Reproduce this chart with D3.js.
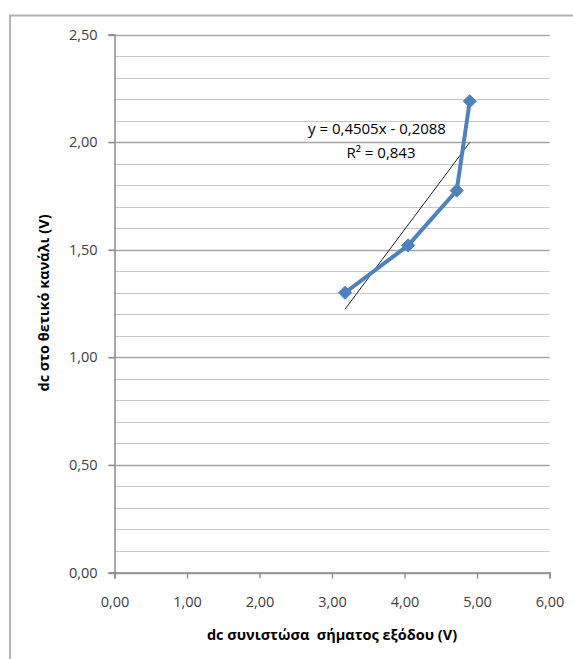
<!DOCTYPE html>
<html>
<head>
<meta charset="utf-8">
<script src="https://cdn.jsdelivr.net/npm/d3@7"></script>
<style>
  body { margin: 0; background: #fff; }
  svg { font-family: "Open Sans", "Liberation Sans", sans-serif; }
  .tick-label { font-size: 14.5px; fill: #404040; }
  .axis-title { font-size: 14.5px; font-weight: bold; fill: #000; white-space: pre; }
  .trend-label { font-size: 15px; fill: #000; }
</style>
</head>
<body>
<svg id="chart" width="573" height="659"></svg>
<script>
// measured points (x: dc output component, y: dc on positive channel)
const xValues = [3.18, 4.05, 4.72, 4.90];
const yValues = [1.30, 1.52, 1.775, 2.19];

const xTicks = [0, 1, 2, 3, 4, 5, 6];
const yMajorTicks = [0, 0.5, 1, 1.5, 2, 2.5];
const yMinorTicks = d3.range(0, 2.51, 0.1);

// linear trendline reported by the chart
const trendSlope = 0.4505;
const trendIntercept = -0.2088;
const trendText = ['y = 0,4505x - 0,2088', 'R² = 0,843'];

const xTitle = 'dc συνιστώσα  σήματος εξόδου (V)';
const yTitle = 'dc στο θετικό κανάλι (V)';

const fmt = v => d3.format('.2f')(v).replace('.', ',');

const svg = d3.select('#chart');

// outer chart border (only top and left visible in the crop)
svg.append('path')
  .attr('d', 'M10,659 V15.5 H573')
  .attr('fill', 'none')
  .attr('stroke', '#b3b3b3')
  .attr('stroke-width', 2);

const x = d3.scaleLinear().domain([0, 6]).range([114.5, 549.5]);
const y = d3.scaleLinear().domain([0, 2.5]).range([572.5, 34.5]);

// minor gridlines
svg.append('g')
  .selectAll('line')
  .data(yMinorTicks)
  .enter().append('line')
  .attr('x1', x(0))
  .attr('x2', x(6))
  .attr('y1', d => Math.round(y(d)) + 0.5)
  .attr('y2', d => Math.round(y(d)) + 0.5)
  .attr('stroke', '#c8c8c8')
  .attr('stroke-width', 1.2);

// major gridlines
svg.append('g')
  .selectAll('line')
  .data(yMajorTicks)
  .enter().append('line')
  .attr('x1', x(0) - 6)
  .attr('x2', x(6))
  .attr('y1', d => Math.round(y(d)) + 0.5)
  .attr('y2', d => Math.round(y(d)) + 0.5)
  .attr('stroke', '#a6a6a6')
  .attr('stroke-width', 1.3);

// y axis
const yAxis = svg.append('g')
  .attr('transform', 'translate(' + x(0) + ',0)')
  .call(d3.axisLeft(y).tickValues(yMajorTicks).tickFormat(fmt).tickSize(6).tickPadding(11));

// x axis
const xAxis = svg.append('g')
  .attr('transform', 'translate(0,' + y(0) + ')')
  .call(d3.axisBottom(x).tickValues(xTicks).tickFormat(fmt).tickSize(6).tickPadding(18));

[yAxis, xAxis].forEach(a => {
  a.select('.domain').attr('stroke', '#8c8c8c').attr('stroke-width', 1.5);
  a.selectAll('.tick line').attr('stroke', '#8c8c8c').attr('stroke-width', 1.3);
  a.selectAll('.tick text').attr('class', 'tick-label').attr('fill', null);
  a.attr('font-family', null).attr('font-size', null);
});

// axis titles
svg.append('text')
  .attr('class', 'axis-title')
  .attr('x', 332)
  .attr('y', 640)
  .attr('text-anchor', 'middle')
  .text(xTitle);

svg.append('text')
  .attr('class', 'axis-title')
  .attr('transform', 'translate(49,303) rotate(-90)')
  .attr('text-anchor', 'middle')
  .text(yTitle);

// trendline
const xMin = d3.min(xValues), xMax = d3.max(xValues);
svg.append('line')
  .attr('x1', x(xMin))
  .attr('y1', y(trendSlope * xMin + trendIntercept))
  .attr('x2', x(xMax))
  .attr('y2', y(trendSlope * xMax + trendIntercept))
  .attr('stroke', '#222')
  .attr('stroke-width', 1);

// series line
const points = xValues.map((v, i) => [v, yValues[i]]);
svg.append('path')
  .datum(points)
  .attr('fill', 'none')
  .attr('stroke', '#4f81bd')
  .attr('stroke-width', 4)
  .attr('stroke-linejoin', 'round')
  .attr('d', d3.line().x(d => x(d[0])).y(d => y(d[1])));

// diamond markers
svg.append('g')
  .selectAll('path')
  .data(points)
  .enter().append('path')
  .attr('transform', d => 'translate(' + x(d[0]) + ',' + y(d[1]) + ')')
  .attr('d', d3.symbol().type(d3.symbolDiamond2).size(110))
  .attr('fill', '#4f81bd')
  .attr('stroke', '#4f81bd')
  .attr('stroke-width', 1);

// trendline label
const label = svg.append('text')
  .attr('class', 'trend-label')
  .attr('text-anchor', 'middle');
label.append('tspan').attr('x', 377).attr('y', 134).text(trendText[0]);
label.append('tspan').attr('x', 381).attr('y', 158).text(trendText[1]);
</script>
</body>
</html>
